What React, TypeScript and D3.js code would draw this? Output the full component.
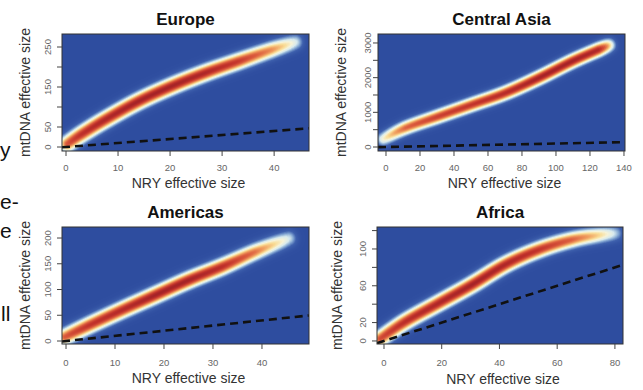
import React, { useMemo } from "react";
import * as d3 from "d3";

// ridge of the posterior density (NRY size, mtDNA size, relative peak height)
const europeRidgeX = [0.3, 3, 7.5, 13.9, 20.3, 26.7, 33.1, 39.5, 44];
const europeRidgeY = [8, 32, 68, 114, 152, 185, 214, 243, 262];
const europeRidgeD = [0.8, 0.92, 0.97, 1.0, 1.0, 0.97, 0.88, 0.66, 0.32];

const asiaRidgeX = [-1.5, 11.4, 31, 50.6, 70.2, 89.8, 109.4, 125, 131];
const asiaRidgeY = [230, 548, 885, 1221, 1558, 1990, 2470, 2806, 2933];
const asiaRidgeD = [0.4, 0.75, 0.86, 0.9, 0.94, 1.0, 1.0, 0.96, 0.5];

const americasRidgeX = [-0.2, 4.6, 11.4, 18.2, 25, 31.8, 38.6, 45.4];
const americasRidgeY = [8, 30, 60, 89, 118, 144, 173, 199];
const americasRidgeD = [0.78, 0.9, 0.95, 1.0, 1.0, 0.93, 0.72, 0.3];

const africaRidgeX = [-1.3, 7.4, 18.9, 30.4, 42, 53.5, 65, 74.3, 80];
const africaRidgeY = [2.5, 21, 41, 61, 83, 99, 110, 115, 117];
const africaRidgeD = [0.82, 0.93, 0.97, 1.0, 0.97, 0.9, 0.76, 0.52, 0.25];

const europeXTicks = [0, 10, 20, 30, 40];
const europeYTicks = [0, 50, 100, 150, 200, 250];
const europeYLabels = [0, 50, 150, 250];

const asiaXTicks = [0, 20, 40, 60, 80, 100, 120, 140];
const asiaYTicks = [0, 500, 1000, 1500, 2000, 2500, 3000];
const asiaYLabels = [0, 1000, 2000, 3000];

const americasXTicks = [0, 10, 20, 30, 40];
const americasYTicks = [0, 50, 100, 150, 200];
const americasYLabels = [0, 50, 100, 150, 200];

const africaXTicks = [0, 20, 40, 60, 80];
const africaYTicks = [0, 20, 40, 60, 80, 100, 120];
const africaYLabels = [0, 20, 60, 100];

const xTitle = "NRY effective size";
const yTitle = "mtDNA effective size";

// scraps of the neighbouring page text, cut by the crop
const sideText = ["y", "e-", "e", "ll"];

const panels = [
  {
    title: "Europe", rx: europeRidgeX, ry: europeRidgeY, rd: europeRidgeD,
    xTicks: europeXTicks, yTicks: europeYTicks, yLabels: europeYLabels,
    xDomain: [-0.77, 46.7], yDomain: [-10, 282.5],
    box: [62, 34, 309, 151], sigma: 5.2, yLabOff: 14, yTitleX: 25,
    titleY: 25, tickY: 168, xTitleY: 183,
  },
  {
    title: "Central Asia", rx: asiaRidgeX, ry: asiaRidgeY, rd: asiaRidgeD,
    xTicks: asiaXTicks, yTicks: asiaYTicks, yLabels: asiaYLabels,
    xDomain: [-4.7, 140.6], yDomain: [-115, 3259],
    box: [378, 34, 625, 151], sigma: 4.4, yLabOff: 10, yTitleX: 341,
    titleY: 25, tickY: 168, xTitleY: 183,
  },
  {
    title: "Americas", rx: americasRidgeX, ry: americasRidgeY, rd: americasRidgeD,
    xTicks: americasXTicks, yTicks: americasYTicks, yLabels: americasYLabels,
    xDomain: [-0.82, 49.6], yDomain: [-5.8, 221.4],
    box: [62, 227, 309, 344], sigma: 5.2, yLabOff: 14, yTitleX: 25,
    titleY: 218, tickY: 363, xTitleY: 378,
  },
  {
    title: "Africa", rx: africaRidgeX, ry: africaRidgeY, rd: africaRidgeD,
    xTicks: africaXTicks, yTicks: africaYTicks, yLabels: africaYLabels,
    xDomain: [-2.42, 82.8], yDomain: [-3.3, 123.9],
    box: [377, 227, 623, 344], sigma: 5.1, yLabOff: 14, yTitleX: 337,
    titleY: 218, tickY: 363, xTitleY: 379,
  },
];

const colorStops = [0, 0.1, 0.2, 0.3, 0.4, 0.5, 0.62, 0.76, 0.9, 1];
const colorRange = [
  "#2e4d9f", "#3e60ad", "#86a9d4", "#d6e9ee", "#f6f3d8",
  "#f9dc95", "#f0a060", "#dc5e3e", "#c2332b", "#a52327",
];
const heat = d3.scaleLinear<string>().domain(colorStops).range(colorRange).clamp(true);
const lut = d3.range(256).map(i => d3.rgb(heat(i / 255)));

// smooth the ridge through the read points (Catmull-Rom) so the band has no kinks
function smoothRidge(pts) {
  const out = [];
  const n = pts.length;
  for (let k = 0; k < n - 1; k++) {
    const p0 = pts[Math.max(0, k - 1)], p1 = pts[k], p2 = pts[k + 1], p3 = pts[Math.min(n - 1, k + 2)];
    for (let s = 0; s < 8; s++) {
      const u = s / 8, u2 = u * u, u3 = u2 * u;
      const cr = (a, b, c, d) =>
        0.5 * (2 * b + (c - a) * u + (2 * a - 5 * b + 4 * c - d) * u2 + (3 * b - a - 3 * c + d) * u3);
      out.push([cr(p0[0], p1[0], p2[0], p3[0]), cr(p0[1], p1[1], p2[1], p3[1]), p1[2] + (p2[2] - p1[2]) * u]);
    }
  }
  out.push(pts[n - 1]);
  return out;
}

function densityUrl(p, x, y) {
  const [l, t, r, b] = p.box;
  const w = Math.round(r - l), h = Math.round(b - t);
  const canvas = document.createElement("canvas");
  canvas.width = w;
  canvas.height = h;
  const ctx = canvas.getContext("2d");
  if (!ctx) return "";
  const img = ctx.createImageData(w, h);
  const pts = smoothRidge(p.rx.map((v, i) => [x(v) - l, y(p.ry[i]) - t, p.rd[i]]));
  const s2 = 2 * p.sigma * p.sigma;
  for (let j = 0; j < h; j++) {
    for (let i = 0; i < w; i++) {
      const px = i + 0.5, py = j + 0.5;
      let best = 0;
      for (let k = 0; k < pts.length - 1; k++) {
        const [ax, ay, a0] = pts[k];
        const [bx, by, a1] = pts[k + 1];
        const dx = bx - ax, dy = by - ay;
        let u = ((px - ax) * dx + (py - ay) * dy) / (dx * dx + dy * dy);
        u = Math.max(0, Math.min(1, u));
        const cx = ax + u * dx - px, cy = ay + u * dy - py;
        const v = (a0 + (a1 - a0) * u) * Math.exp(-(cx * cx + cy * cy) / s2);
        if (v > best) best = v;
      }
      const c = lut[Math.round(Math.min(1, best) * 255)];
      const o = (j * w + i) * 4;
      img.data[o] = c.r;
      img.data[o + 1] = c.g;
      img.data[o + 2] = c.b;
      img.data[o + 3] = 255;
    }
  }
  ctx.putImageData(img, 0, 0);
  return canvas.toDataURL();
}

function Panel({ p, idx }) {
  const [l, t, r, b] = p.box;
  const x = d3.scaleLinear().domain(p.xDomain).range([l, r]);
  const y = d3.scaleLinear().domain(p.yDomain).range([b, t]);
  const url = useMemo(() => densityUrl(p, x, y), [idx]);
  const diag = d3.line<number>().x(v => x(v)).y(v => y(v));
  const cx = (l + r) / 2, cy = (t + b) / 2;
  const clipId = `clip${idx}`;
  return (
    <g fontFamily="'Liberation Sans', Arial, sans-serif">
      <defs>
        <clipPath id={clipId}>
          <rect x={l} y={t} width={r - l} height={b - t} />
        </clipPath>
      </defs>
      <image href={url} x={l} y={t} width={r - l} height={b - t} />
      <path d={diag(p.xDomain) || ""} clipPath={`url(#${clipId})`}
        fill="none" stroke="#111" strokeWidth={2.6} strokeDasharray="8,5" />
      <rect x={l} y={t} width={r - l} height={b - t} fill="none" stroke="#333" strokeWidth={1} />
      {p.xTicks.map(v => (
        <g key={"x" + v}>
          <line x1={x(v)} x2={x(v)} y1={b} y2={b + 5} stroke="#444" />
          <text x={x(v)} y={p.tickY} dy="0.35em" textAnchor="middle" fontSize={9.5} fill="#666">{v}</text>
        </g>
      ))}
      {p.yTicks.map(v => (
        <g key={"y" + v}>
          <line x1={l - 5} x2={l} y1={y(v)} y2={y(v)} stroke="#444" />
          {p.yLabels.includes(v) && (
            <text transform={`translate(${l - p.yLabOff},${y(v)}) rotate(-90)`} dy="0.35em"
              textAnchor="middle" fontSize={9.5} fill="#666">{v}</text>
          )}
        </g>
      ))}
      <text x={cx} y={p.titleY} textAnchor="middle" fontSize={17} fontWeight="bold" fill="#111">{p.title}</text>
      <text x={cx + 3} y={p.xTitleY} dy="0.35em" textAnchor="middle" fontSize={14} fill="#333">{xTitle}</text>
      <text transform={`translate(${p.yTitleX},${cy}) rotate(-90)`} dy="0.35em"
        textAnchor="middle" fontSize={14} fill="#333">{yTitle}</text>
    </g>
  );
}

export default function App() {
  const sideY = [157, 209, 238, 321];
  const sideX = [0, 0, 0, 1];
  return (
    <svg width={643} height={390} style={{ position: "absolute", left: 0, top: 0, background: "#fff" }}>
      <rect width={643} height={390} fill="#fff" />
      {sideText.map((s, i) => (
        <text key={i} x={sideX[i]} y={sideY[i]} fontSize={21} fill="#111"
          fontFamily="'Liberation Sans', Arial, sans-serif">{s}</text>
      ))}
      {panels.map((p, i) => <Panel key={p.title} p={p} idx={i} />)}
    </svg>
  );
}
